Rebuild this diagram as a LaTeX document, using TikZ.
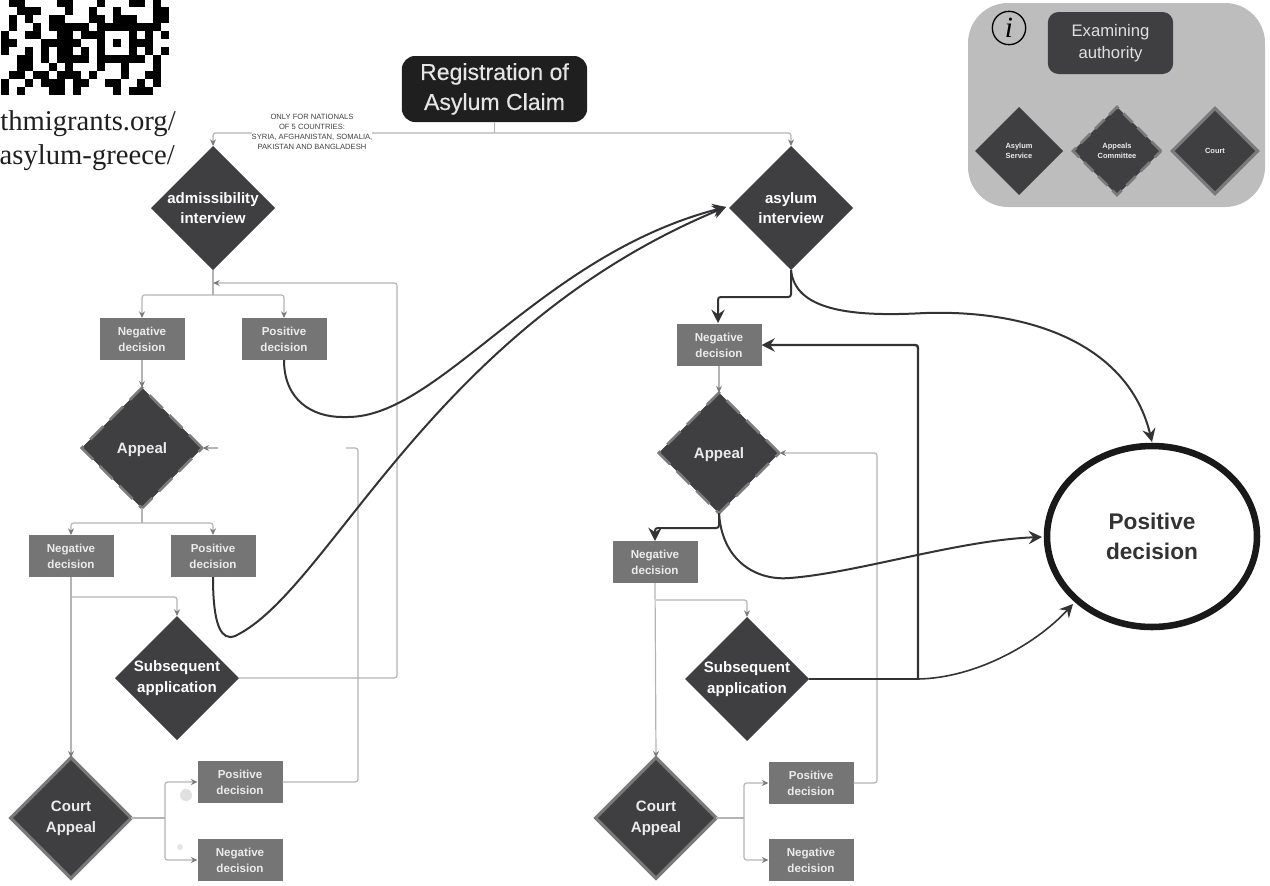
\documentclass[tikz,border=0pt]{standalone}
\usepackage{fontspec}
\setmainfont{Liberation Serif}
\newfontfamily\diagfont{Liberation Sans}
\newfontfamily\medfont[FakeBold=0.3]{Liberation Sans}
\usetikzlibrary{shapes.geometric,arrows.meta}
\definecolor{darkfill}{HTML}{3F3F41}
\definecolor{boxfill}{HTML}{757575}
\definecolor{edgegray}{HTML}{7A7A7A}
\definecolor{thinline}{HTML}{B4B4B4}
\definecolor{thickline}{HTML}{333335}
\definecolor{panel}{HTML}{BDBDBD}
\tikzset{
  dia/.style={shape=diamond,aspect=1,fill=darkfill,text=white,inner sep=0pt,outer sep=0pt,align=center,font=\diagfont\bfseries\fontsize{11.3}{15.5}\selectfont,minimum width=#1,minimum height=#1},
  dia/.default=93pt,
  appealdia/.style={dia=90.5pt,draw=edgegray,line width=2pt,dash pattern=on 14pt off 7pt},
  courtdia/.style={dia=90.5pt,draw=edgegray,line width=2.4pt},
  diatext/.style={text=white!92!black,inner sep=0pt,align=center,font=\diagfont\bfseries\fontsize{11.3}{15.5}\selectfont},
  decbox/.style={rectangle,fill=boxfill,text=white!92!black,inner sep=0pt,outer sep=0pt,align=center,minimum width=63.75pt,minimum height=31.5pt,font=\diagfont\bfseries\fontsize{8.7}{11.8}\selectfont},
  thin conn/.style={draw=thinline,line width=0.9pt,rounded corners=2pt},
  thin arrow/.style={thin conn,-{Stealth[length=5pt,width=4.5pt,color=edgegray]}},
  thick conn/.style={draw=thickline,line width=1.5pt,rounded corners=2pt},
  thick arrow/.style={thick conn,-{Stealth[length=10pt,width=10pt,inset=3.5pt]}},
  legenddia/.style={dia=66pt},
  legendappeal/.style={legenddia,draw=edgegray,line width=2pt,dash pattern=on 10pt off 5pt},
  legendcourt/.style={dia=64pt,draw=edgegray,line width=2.4pt},
  legendtext/.style={text=white!92!black,inner sep=0pt,align=center,font=\diagfont\bfseries\fontsize{5.6}{7.5}\selectfont},
  urltext/.style={anchor=base east,inner sep=0pt,font=\fontsize{21.5}{25}\selectfont,text=black!88}
}
\begin{document}
\begin{tikzpicture}[x=0.75pt,y=-0.75pt]
\useasboundingbox (0,0) rectangle (1270,885);
% QR fragment
\foreach \r/\cols in {0/{1,2,7,8,12,16,17,19},1/{2,3,4,8,11,14,19,20},2/{1,3,6,7,11,12,14,15,16,19,20},3/{1,4,6,7,8,9,10,12,13,14,15,16,17,18,19},4/{0,3,4,7,8,10,11,12,16,18,20},5/{0,1,5,6,7,8,9,12,14,16,17,18},6/{0,3,5,7,8,10,12,16,18,20},7/{2,3,5,7,8,9,10,12,13,14,15,16,17,19},8/{2,3,6,8,12,15,19},9/{1,2,4,5,7,8,9,11,15,18,19},10/{0,3,5,6,7,9,10,13,14,17,19},11/{0,2,6,7,9,14,16,17,18}}{
  \foreach \c in \cols {
    \fill[black] ({1+8*\c},{-1.33+8*\r}) rectangle ({9+8*\c},{6.67+8*\r});
  }
}
\node[urltext] (url1) at (176,130) {thmigrants.org/};
\node[urltext] (url2) at (175,164) {asylum-greece/};
% legend panel
\node[rectangle,rounded corners=30pt,fill=panel,minimum width=222.75pt,minimum height=153pt,inner sep=0pt] (panelbox) at (1116.5,105) {};
\node[rectangle,rounded corners=8pt,fill=darkfill,text=white!88!black,minimum width=94pt,minimum height=46.5pt,inner sep=0pt,align=center,font=\diagfont\fontsize{12.5}{16.5}\selectfont] (exam) at (1110.5,43) {Examining\\authority};
\node[circle,draw=black,line width=1pt,minimum size=25pt,inner sep=0pt,font=\fontsize{22}{22}\selectfont\itshape] (info) at (1009,28) {i};
\node[legenddia] (lasy) at (1019,151) {};
\node[legendappeal] (lapp) at (1117,151) {};
\node[legendcourt] (lcou) at (1215,151) {};
\node[legendtext] (lasyt) at (lasy) {Asylum\\Service};
\node[legendtext] (lappt) at (lapp) {Appeals\\Committee};
\node[legendtext] (lcout) at (lcou) {Court};
% main nodes
\node[rectangle,rounded corners=10pt,fill=black!88,text=white!90!black,minimum width=139pt,minimum height=49.5pt,inner sep=0pt,align=center,font=\medfont\fontsize{17.3}{22.5}\selectfont] (reg) at (494.5,89) {Registration of\\Asylum Claim};
\node[dia] (adm) at (213,208) {admissibility\\interview};
\node[dia] (asy) at (791,208) {asylum\\interview};
\node[decbox] (ln1) at (142,339) {Negative\\decision};
\node[decbox] (lp1) at (284,339) {Positive\\decision};
\node[appealdia] (lap) at (142,448) {};
\node[diatext,yshift=-1.2pt] (lapt) at (lap) {Appeal};
\node[decbox] (ln2) at (71,556) {Negative\\decision};
\node[decbox] (lp2) at (213,556) {Positive\\decision};
\node[dia] (lsub) at (177,678) {Subsequent\\application};
\node[courtdia] (lco) at (71,818) {};
\node[diatext] (lcot) at (lco) {Court\\Appeal};
\node[decbox] (lp3) at (240,782) {Positive\\decision};
\node[decbox] (ln3) at (240,860) {Negative\\decision};
\node[decbox] (rn1) at (719,345) {Negative\\decision};
\node[appealdia] (rap) at (719,453) {};
\node[diatext,yshift=-1.2pt] (rapt) at (rap) {Appeal};
\node[decbox] (rn2) at (655,562) {Negative\\decision};
\node[dia] (rsub) at (747,679) {Subsequent\\application};
\node[courtdia] (rco) at (656,818) {};
\node[diatext] (rcot) at (rco) {Court\\Appeal};
\node[decbox] (rp3) at (811,783) {Positive\\decision};
\node[decbox] (rn3) at (811,860) {Negative\\decision};
\node[ellipse,draw=black!90,line width=4.9pt,fill=white,minimum width=157.5pt,minimum height=135.75pt,inner sep=0pt,align=center,font=\diagfont\bfseries\fontsize{17}{22.5}\selectfont,text=black!80] (pos) at (1152,536.5) {Positive\\decision};
% faint marks left in the reference
\fill[black!12] (186,795) circle (6);
\fill[black!10] (180,847) circle (3);
% thin connectors, left
\coordinate (jreg) at (reg.south |- 0,133);
\draw[thin conn] (reg.south) -- (jreg);
\draw[thin arrow] (jreg) -| (asy.north);
\draw[thin arrow] (jreg) -| (adm.north);
\coordinate (jadm) at (213,295);
\draw[thin conn] (adm.south) -- (jadm);
\draw[thin arrow] (jadm) -| (ln1.north);
\draw[thin arrow] (jadm) -| (lp1.north);
\draw[thin arrow] (ln1.south) -- (lap.north);
\coordinate (japp) at (142,523);
\draw[thin conn] (lap.south) -- (japp);
\draw[thin arrow] (japp) -| (ln2.north);
\draw[thin arrow] (japp) -| (lp2.north);
\draw[thin arrow] (ln2.south) -- (lco.north);
\draw[thin arrow] (71,597) -| (lsub.north);
\coordinate (lfb) at (397,678);
\draw[thin arrow] (lsub.east) -- (lfb) -- (397,283) -- (adm.south |- 0,283);
\coordinate (jlc) at (165,818);
\draw[thin conn] (lco.east) -- (jlc);
\draw[thin arrow] (jlc) |- (lp3.west);
\draw[thin arrow] (jlc) |- (ln3.west);
\draw[thin conn] (lp3.east) -- (358,782) -- (358,448) -- (346,448);
\draw[thin arrow] (218,448) -- (lap.east);
% thin connectors, right
\draw[thin arrow] (rn1.south) -- (rap.north);
\draw[thin arrow] (rn2.south) -- (rco.north);
\draw[thin arrow] (656,600) -| (rsub.north);
\coordinate (jrc) at (744,818);
\draw[thin conn] (rco.east) -- (jrc);
\draw[thin arrow] (jrc) |- (rp3.west);
\draw[thin arrow] (jrc) |- (rn3.west);
\draw[thin arrow] (rp3.east) -- (877,783) -- (877,453) -- (rap.east);
% thick connectors
\draw[thick arrow] (lp1.south) .. controls (284,400) and (312,417) .. (345,417) .. controls (440,417) and (540,255) .. (726,207);
\draw[thick arrow] (lp2.south) .. controls (213,615) and (218,637) .. (233,637) .. controls (330,590) and (430,330) .. (726,207);
\draw[thick arrow] (asy.south) -- (791,297) -- (718,297) -- (718,323);
\draw[thick arrow] (asy.south) .. controls (795,310) and (850,317) .. (925,313) .. controls (1040,310) and (1130,350) .. (1152,442);
\draw[thick arrow] (rap.south) -- (719,528) -- (655,528) -- (rn2.north);
\draw[thick arrow] (rap.south) .. controls (722,560) and (755,580) .. (790,578) .. controls (860,572) and (960,540) .. (1042,537);
\coordinate (jrs) at (918,679);
\draw[thick conn,line width=1.8pt] (rsub.east) -- (jrs);
\draw[thick arrow,line width=1.8pt] (jrs) -- (918,345) -- (rn1.east);
\draw[thick arrow,line width=1.2pt] (jrs) .. controls (975,678) and (1035,645) .. (1073,604);
% label over the top line
\node[fill=white,inner sep=0pt,align=center,text=black!75,font=\diagfont\fontsize{5.7}{7.5}\selectfont] (only) at (312,132) {ONLY FOR NATIONALS\\OF 5 COUNTRIES:\\SYRIA, AFGHANISTAN, SOMALIA,\\PAKISTAN AND BANGLADESH};
\end{tikzpicture}
\end{document}
